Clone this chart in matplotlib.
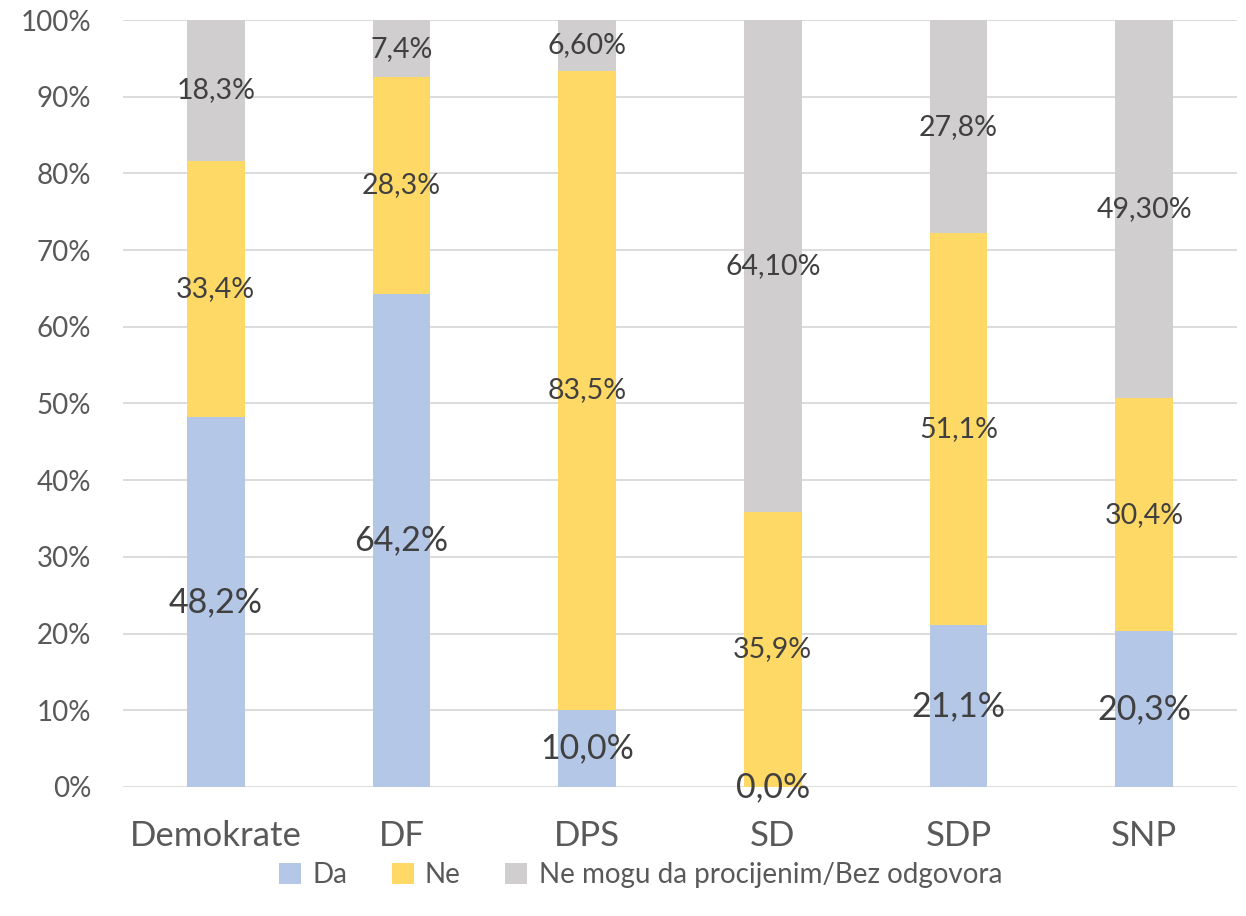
import numpy as np
import matplotlib.pyplot as plt
from matplotlib.ticker import PercentFormatter

# data
parties = ['Demokrate', 'DF', 'DPS', 'SD', 'SDP', 'SNP']
da = [48.2, 64.2, 10.0, 0.0, 21.1, 20.3]
ne = [33.4, 28.3, 83.5, 35.9, 51.1, 30.4]
bez = [18.3, 7.4, 6.60, 64.10, 27.8, 49.30]
da_lbl = ['48,2%', '64,2%', '10,0%', '0,0%', '21,1%', '20,3%']
ne_lbl = ['33,4%', '28,3%', '83,5%', '35,9%', '51,1%', '30,4%']
bez_lbl = ['18,3%', '7,4%', '6,60%', '64,10%', '27,8%', '49,30%']
series_names = ['Da', 'Ne', 'Ne mogu da procijenim/Bez odgovora']

plt.rcParams['font.family'] = ['Lato', 'DejaVu Sans']

# 100% stacked
tot = np.array(da) + np.array(ne) + np.array(bez)
p_da = np.array(da) / tot * 100
p_ne = np.array(ne) / tot * 100
p_bez = np.array(bez) / tot * 100

colors = ['#B4C7E7', '#FFD966', '#D0CECE']
x = np.arange(len(parties))
w = 0.31

fig = plt.figure(figsize=(12.46, 9.16), dpi=100)
ax = fig.add_axes([0.0987, 0.141, 0.894, 0.837])

b1 = ax.bar(x, p_da, w, color=colors[0], label=series_names[0], zorder=2)
b2 = ax.bar(x, p_ne, w, bottom=p_da, color=colors[1], label=series_names[1], zorder=2)
b3 = ax.bar(x, p_bez, w, bottom=p_da + p_ne, color=colors[2], label=series_names[2], zorder=2)

ax.bar_label(b1, labels=da_lbl, label_type='center', fontsize=24.5, color='#404040')
ax.bar_label(b2, labels=ne_lbl, label_type='center', fontsize=20.5, color='#404040')
ax.bar_label(b3, labels=bez_lbl, label_type='center', fontsize=20.5, color='#404040')

ax.set_xlim(-0.5, 5.5)
ax.set_ylim(0, 100)
ax.set_yticks(np.arange(0, 101, 10))
ax.yaxis.set_major_formatter(PercentFormatter(decimals=0))
ax.set_xticks(x)
ax.set_xticklabels(parties)
ax.tick_params(axis='y', labelsize=20, labelcolor='#595959', length=0, pad=23)
ax.tick_params(axis='x', labelsize=25, labelcolor='#595959', length=0, pad=24)
ax.grid(axis='y', color='#D9D9D9', linewidth=1.3, zorder=0)
for s in ax.spines.values():
    s.set_visible(False)

leg = fig.legend(handles=[b1, b2, b3], loc='center', bbox_to_anchor=(0.514, 0.045),
                 ncol=3, frameon=False, fontsize=20, handlelength=0.8, handleheight=0.8,
                 columnspacing=1.6, handletextpad=0.4)
for t in leg.get_texts():
    t.set_color('#595959')

plt.savefig('out.png', dpi=100)
